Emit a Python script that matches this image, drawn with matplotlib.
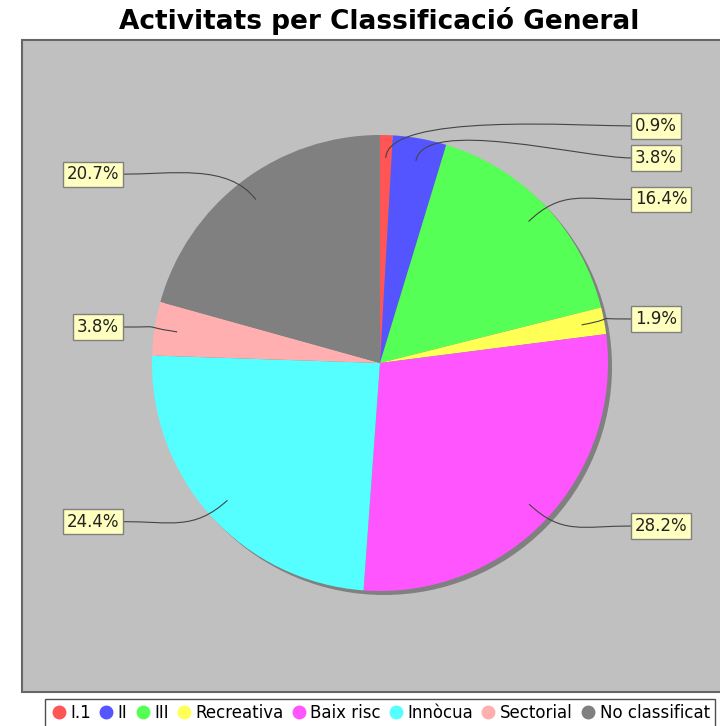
import numpy as np
import matplotlib
matplotlib.use("Agg")
import matplotlib.pyplot as plt
import matplotlib.patches as patches
from matplotlib.path import Path
from matplotlib.lines import Line2D

TITLE = "Activitats per Classificació General"

categories = ["I.1", "II", "III", "Recreativa", "Baix risc",
              "Innòcua", "Sectorial", "No classificat"]
shares = [0.9, 3.8, 16.4, 1.9, 28.2, 24.4, 3.8, 20.7]

colors = ["#FF5555", "#5555FF", "#55FF55", "#FFFF55",
          "#FF55FF", "#55FFFF", "#FFAFAF", "#808080"]

W, H = 720, 726
CX, CY = 380, 363
R = 228
MIN_GAP = 32


def label_positions(mids):
    # y from angle, pushed apart so the boxes do not overlap
    ys = [CY + 1.04 * R * np.cos(np.radians(a)) for a in mids]
    right = [i for i, a in enumerate(mids) if a < 180]
    left = [i for i, a in enumerate(mids) if a >= 180]

    # right side: top to bottom
    order = sorted(right, key=lambda i: -ys[i])
    for k in range(1, len(order)):
        prev, cur = order[k - 1], order[k]
        if ys[prev] - ys[cur] < MIN_GAP:
            ys[cur] = ys[prev] - MIN_GAP

    order = sorted(left, key=lambda i: ys[i])
    for k in range(1, len(order)):
        prev, cur = order[k - 1], order[k]
        if ys[cur] - ys[prev] < MIN_GAP:
            ys[cur] = ys[prev] + MIN_GAP

    return ys


def main():

    fig = plt.figure(figsize=(W / 100, H / 100), dpi=100)
    ax = fig.add_axes([0, 0, 1, 1])

    # plot background
    ax.add_patch(patches.Rectangle(
        (22, 34), 720, 652,
        facecolor="#C0C0C0",
        edgecolor="#666666",
        linewidth=1.5,
        zorder=0
    ))

    # shadow
    ax.add_patch(patches.Circle(
        (CX + 4, CY - 4), R,
        facecolor="#808080",
        edgecolor="none",
        zorder=1
    ))

    wedges, _ = ax.pie(
        shares,
        colors=colors,
        startangle=90,
        counterclock=False,
        center=(CX, CY),
        radius=R,
        wedgeprops={"linewidth": 0}
    )
    for w in wedges:
        w.set_zorder(2)

    total = sum(shares)
    cum = np.cumsum([0] + shares[:-1])
    mids = [(c + s / 2) / total * 360 for c, s in zip(cum, shares)]
    ys = label_positions(mids)

    for i, a in enumerate(mids):
        t = np.radians(a)
        ax_x = CX + 0.9 * R * np.sin(t)
        ax_y = CY + 0.9 * R * np.cos(t)
        el_x = CX + 1.1 * R * np.sin(t)
        el_y = CY + 1.1 * R * np.cos(t)

        if a < 180:
            lx = CX + R + 24
            ha = "left"
            ctrl = lx - 50
        else:
            lx = CX - R - 30
            ha = "right"
            ctrl = lx + 50

        path = Path(
            [(ax_x, ax_y), (el_x, el_y), (ctrl, ys[i]), (lx, ys[i])],
            [Path.MOVETO, Path.CURVE4, Path.CURVE4, Path.CURVE4]
        )
        ax.add_patch(patches.PathPatch(
            path,
            facecolor="none",
            edgecolor="#444444",
            linewidth=0.8,
            zorder=3
        ))

        ax.text(
            lx + (3 if ha == "left" else -3),
            ys[i],
            f"{shares[i]:.1f}%",
            ha=ha,
            va="center",
            fontsize=12,
            color="#222222",
            zorder=4,
            bbox=dict(
                boxstyle="square,pad=0.22",
                facecolor="#FFFFC0",
                edgecolor="#808080",
                linewidth=1
            )
        )

    ax.text(
        379, 705,
        TITLE,
        ha="center",
        va="center",
        fontsize=19,
        fontweight="bold"
    )

    ax.set_xlim(0, W)
    ax.set_ylim(0, H)
    ax.set_aspect("auto")
    ax.axis("off")

    handles = [
        Line2D([], [], marker="o", linestyle="none",
               markersize=9, markerfacecolor=c, markeredgecolor=c)
        for c in colors
    ]
    fig.legend(
        handles,
        categories,
        loc="upper center",
        bbox_to_anchor=(380 / W, 27 / H),
        ncol=len(categories),
        fontsize=12,
        frameon=True,
        fancybox=False,
        edgecolor="#222222",
        handletextpad=0.2,
        columnspacing=0.4,
        handlelength=1.0,
        borderpad=0.3,
        borderaxespad=0
    )

    fig.savefig("out.png", dpi=100)
    plt.close(fig)


if __name__ == "__main__":
    main()
